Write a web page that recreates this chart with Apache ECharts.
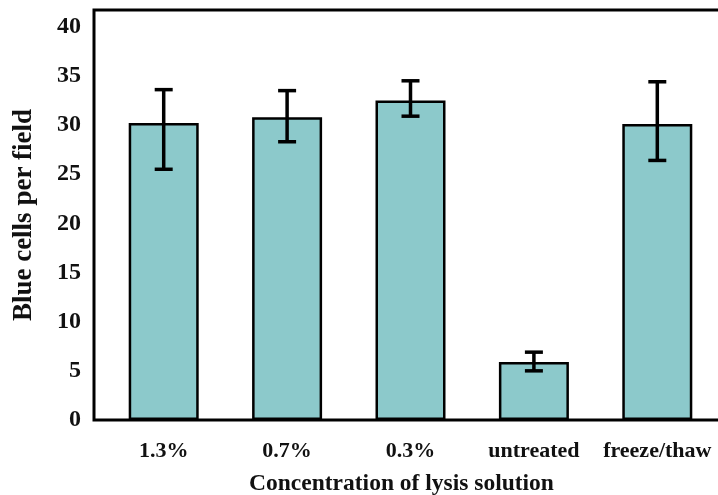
<!DOCTYPE html>
<html>
<head>
<meta charset="utf-8">
<script src="https://cdn.jsdelivr.net/npm/echarts@6/dist/echarts.min.js"></script>
<style>
  html, body { margin: 0; padding: 0; background: #fff; }
  #chart { width: 718px; height: 495px; }
</style>
</head>
<body>
<div id="chart"></div>
<script>
// data
const categories = ['1.3%', '0.7%', '0.3%', 'untreated', 'freeze/thaw']
const meanValues = [30.2, 30.8, 32.5, 5.9, 30.1]
const errLow = [25.5, 28.3, 30.9, 5.0, 26.4]
const errHigh = [33.6, 33.5, 34.5, 6.9, 34.4]

const serif = '"Liberation Serif", "Times New Roman", serif'
const yMax = 41.7

const chart = echarts.init(document.getElementById('chart'))

let errData = categories.map((c, i) => [i, errLow[i], errHigh[i]])

const option = {
  animation: false,
  backgroundColor: '#fff',
  grid: [
    // frame: left, top and bottom lines
    { left: 94, top: 10, right: -20, bottom: 75, outerBoundsMode: 'none', show: true, borderColor: '#000', borderWidth: 3, backgroundColor: 'transparent' },
    // bars
    { left: 102, top: 10, right: -1, bottom: 75, outerBoundsMode: 'none' }
  ],
  xAxis: [
    { gridIndex: 0, type: 'value', show: false, min: 0, max: 1 },
    {
      gridIndex: 1,
      type: 'category',
      data: categories,
      axisLine: { show: false },
      axisTick: { show: false },
      axisLabel: {
        interval: 0,
        hideOverlap: false,
        margin: 20,
        color: '#111',
        fontFamily: serif,
        fontWeight: 'bold',
        fontSize: 22
      },
      name: 'Concentration of lysis solution',
      nameLocation: 'middle',
      nameGap: 52,
      nameTextStyle: {
        color: '#111',
        fontFamily: serif,
        fontWeight: 'bold',
        fontSize: 23.5,
        padding: [0, 18, 0, 0]
      }
    }
  ],
  yAxis: [
    {
      gridIndex: 0,
      type: 'value',
      min: 0,
      max: yMax,
      interval: 5,
      splitLine: { show: false },
      axisLine: { show: false },
      axisTick: { show: false },
      axisLabel: {
        showMaxLabel: false,
        margin: 13,
        color: '#111',
        fontFamily: serif,
        fontWeight: 'bold',
        fontSize: 24
      },
      name: 'Blue cells per field',
      nameLocation: 'middle',
      nameGap: 56,
      nameTextStyle: {
        color: '#111',
        fontFamily: serif,
        fontWeight: 'bold',
        fontSize: 27
      }
    },
    { gridIndex: 1, type: 'value', min: 0, max: yMax, show: false }
  ],
  series: [
    {
      type: 'bar',
      xAxisIndex: 1,
      yAxisIndex: 1,
      data: meanValues,
      barWidth: 70,
      itemStyle: {
        color: '#8cc9cb',
        borderColor: '#000',
        borderWidth: 2.5
      }
    },
    {
      type: 'custom',
      xAxisIndex: 1,
      yAxisIndex: 1,
      data: errData,
      z: 10,
      renderItem: function (params, api) {
        const lo = api.coord([api.value(0), api.value(1)])
        const hi = api.coord([api.value(0), api.value(2)])
        const half = 9
        const style = { stroke: '#000', lineWidth: 3.5, fill: null }
        return {
          type: 'group',
          children: [
            { type: 'line', shape: { x1: hi[0], y1: hi[1], x2: lo[0], y2: lo[1] }, style: style },
            { type: 'line', shape: { x1: hi[0] - half, y1: hi[1], x2: hi[0] + half, y2: hi[1] }, style: style },
            { type: 'line', shape: { x1: lo[0] - half, y1: lo[1], x2: lo[0] + half, y2: lo[1] }, style: style }
          ]
        }
      }
    }
  ]
}

chart.setOption(option)
</script>
</body>
</html>
